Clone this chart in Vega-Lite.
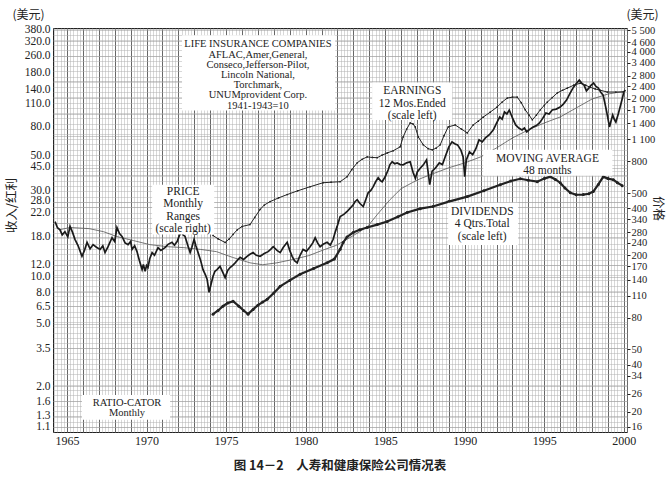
{
  "$schema": "https://vega.github.io/schema/vega-lite/v6.json",
  "width": 574,
  "height": 404,
  "autosize": {"type": "none"},
  "padding": {"left": 53, "top": 28, "right": 42, "bottom": 52},
  "background": "white",
  "title": {
    "text": "图 14－2　人寿和健康保险公司情况表",
    "orient": "bottom",
    "anchor": "middle",
    "offset": 14,
    "font": "Noto Sans CJK SC",
    "fontSize": 12.5,
    "fontWeight": "bold",
    "color": "#222"
  },
  "config": {
    "view": {"stroke": "#222", "strokeWidth": 1},
    "axis": {
      "labelFont": "Liberation Serif",
      "labelFontSize": 11.5,
      "labelColor": "#222",
      "labelOverlap": false,
      "labelFlush": false,
      "titleFont": "Noto Sans CJK SC",
      "titleFontWeight": "normal",
      "titleColor": "#222",
      "titleFontSize": 12
    }
  },
  "datasets": {
    "price": [
      {"year": 1964.25, "price": 328}, {"year": 1964.4, "price": 300}, {"year": 1964.56, "price": 291},
      {"year": 1964.7, "price": 270}, {"year": 1964.87, "price": 283}, {"year": 1965.05, "price": 262},
      {"year": 1965.19, "price": 306}, {"year": 1965.35, "price": 280}, {"year": 1965.5, "price": 253},
      {"year": 1965.7, "price": 230}, {"year": 1965.94, "price": 197}, {"year": 1966.1, "price": 215},
      {"year": 1966.26, "price": 242}, {"year": 1966.45, "price": 220}, {"year": 1966.64, "price": 234},
      {"year": 1966.85, "price": 225}, {"year": 1967.08, "price": 218}, {"year": 1967.25, "price": 230},
      {"year": 1967.39, "price": 208}, {"year": 1967.58, "price": 227}, {"year": 1967.83, "price": 259},
      {"year": 1968.0, "price": 245}, {"year": 1968.14, "price": 301}, {"year": 1968.3, "price": 275},
      {"year": 1968.46, "price": 264}, {"year": 1968.65, "price": 240}, {"year": 1968.84, "price": 234},
      {"year": 1969.0, "price": 245}, {"year": 1969.09, "price": 218}, {"year": 1969.25, "price": 230},
      {"year": 1969.4, "price": 211}, {"year": 1969.55, "price": 185}, {"year": 1969.72, "price": 162},
      {"year": 1969.8, "price": 175}, {"year": 1969.91, "price": 158}, {"year": 1970.0, "price": 172},
      {"year": 1970.09, "price": 167}, {"year": 1970.2, "price": 190}, {"year": 1970.35, "price": 208},
      {"year": 1970.5, "price": 200}, {"year": 1970.72, "price": 224}, {"year": 1970.9, "price": 215},
      {"year": 1971.16, "price": 224}, {"year": 1971.35, "price": 235}, {"year": 1971.6, "price": 242},
      {"year": 1971.75, "price": 232}, {"year": 1971.92, "price": 245}, {"year": 1972.05, "price": 265},
      {"year": 1972.17, "price": 283}, {"year": 1972.3, "price": 270}, {"year": 1972.42, "price": 264},
      {"year": 1972.6, "price": 230}, {"year": 1972.74, "price": 208}, {"year": 1972.85, "price": 225},
      {"year": 1972.99, "price": 253}, {"year": 1973.1, "price": 230}, {"year": 1973.24, "price": 208},
      {"year": 1973.4, "price": 185}, {"year": 1973.55, "price": 162}, {"year": 1973.7, "price": 150},
      {"year": 1973.81, "price": 140}, {"year": 1973.93, "price": 116}, {"year": 1974.05, "price": 130},
      {"year": 1974.18, "price": 147}, {"year": 1974.3, "price": 158}, {"year": 1974.43, "price": 162},
      {"year": 1974.62, "price": 170}, {"year": 1974.8, "price": 155}, {"year": 1974.94, "price": 144},
      {"year": 1975.1, "price": 160}, {"year": 1975.25, "price": 167}, {"year": 1975.4, "price": 172},
      {"year": 1975.57, "price": 179}, {"year": 1975.75, "price": 188}, {"year": 1975.88, "price": 194},
      {"year": 1976.1, "price": 188}, {"year": 1976.32, "price": 197}, {"year": 1976.5, "price": 203},
      {"year": 1976.7, "price": 208}, {"year": 1976.9, "price": 200}, {"year": 1977.14, "price": 197},
      {"year": 1977.4, "price": 205}, {"year": 1977.64, "price": 211}, {"year": 1977.8, "price": 218},
      {"year": 1977.96, "price": 227}, {"year": 1978.2, "price": 215}, {"year": 1978.4, "price": 208},
      {"year": 1978.6, "price": 225}, {"year": 1978.84, "price": 242}, {"year": 1979.0, "price": 215},
      {"year": 1979.15, "price": 197}, {"year": 1979.3, "price": 185}, {"year": 1979.47, "price": 179},
      {"year": 1979.65, "price": 200}, {"year": 1979.84, "price": 218}, {"year": 1980.05, "price": 212},
      {"year": 1980.28, "price": 227}, {"year": 1980.45, "price": 240}, {"year": 1980.6, "price": 259},
      {"year": 1980.75, "price": 240}, {"year": 1980.91, "price": 227}, {"year": 1981.1, "price": 235},
      {"year": 1981.35, "price": 242}, {"year": 1981.55, "price": 232}, {"year": 1981.73, "price": 253},
      {"year": 1981.85, "price": 280}, {"year": 1981.98, "price": 306}, {"year": 1982.17, "price": 354},
      {"year": 1982.4, "price": 365}, {"year": 1982.61, "price": 381}, {"year": 1982.8, "price": 400},
      {"year": 1982.99, "price": 421}, {"year": 1983.1, "price": 440}, {"year": 1983.24, "price": 453},
      {"year": 1983.4, "price": 430}, {"year": 1983.62, "price": 410}, {"year": 1983.8, "price": 460},
      {"year": 1983.93, "price": 502}, {"year": 1984.1, "price": 520}, {"year": 1984.25, "price": 549},
      {"year": 1984.4, "price": 590}, {"year": 1984.56, "price": 626}, {"year": 1984.7, "price": 600},
      {"year": 1984.81, "price": 590}, {"year": 1985.0, "price": 635}, {"year": 1985.19, "price": 704},
      {"year": 1985.3, "price": 760}, {"year": 1985.44, "price": 792}, {"year": 1985.6, "price": 770},
      {"year": 1985.75, "price": 779}, {"year": 1985.95, "price": 760}, {"year": 1986.13, "price": 757},
      {"year": 1986.35, "price": 780}, {"year": 1986.57, "price": 792}, {"year": 1986.76, "price": 674},
      {"year": 1986.9, "price": 620}, {"year": 1987.01, "price": 680}, {"year": 1987.2, "price": 720},
      {"year": 1987.4, "price": 757}, {"year": 1987.6, "price": 814}, {"year": 1987.8, "price": 565},
      {"year": 1987.95, "price": 690}, {"year": 1988.15, "price": 720}, {"year": 1988.4, "price": 779},
      {"year": 1988.6, "price": 760}, {"year": 1988.75, "price": 840}, {"year": 1989.0, "price": 986},
      {"year": 1989.2, "price": 1061}, {"year": 1989.4, "price": 1030}, {"year": 1989.55, "price": 1016},
      {"year": 1989.75, "price": 944}, {"year": 1989.9, "price": 850}, {"year": 1990.0, "price": 635},
      {"year": 1990.1, "price": 814}, {"year": 1990.3, "price": 917}, {"year": 1990.5, "price": 880},
      {"year": 1990.7, "price": 960}, {"year": 1990.9, "price": 1093}, {"year": 1991.1, "price": 1060},
      {"year": 1991.3, "price": 1125}, {"year": 1991.55, "price": 1180}, {"year": 1991.8, "price": 1266},
      {"year": 1992.0, "price": 1400}, {"year": 1992.2, "price": 1531}, {"year": 1992.35, "price": 1480},
      {"year": 1992.5, "price": 1648}, {"year": 1992.65, "price": 1600}, {"year": 1992.8, "price": 1696},
      {"year": 1993.0, "price": 1509}, {"year": 1993.2, "price": 1362}, {"year": 1993.4, "price": 1300},
      {"year": 1993.6, "price": 1266}, {"year": 1993.75, "price": 1300}, {"year": 1993.9, "price": 1229},
      {"year": 1994.1, "price": 1280}, {"year": 1994.3, "price": 1322}, {"year": 1994.5, "price": 1350},
      {"year": 1994.7, "price": 1402}, {"year": 1994.9, "price": 1500}, {"year": 1995.1, "price": 1624},
      {"year": 1995.3, "price": 1600}, {"year": 1995.5, "price": 1696}, {"year": 1995.75, "price": 1720},
      {"year": 1996.0, "price": 1773}, {"year": 1996.2, "price": 1850}, {"year": 1996.4, "price": 1965},
      {"year": 1996.6, "price": 2150}, {"year": 1996.8, "price": 2342}, {"year": 1997.0, "price": 2500},
      {"year": 1997.2, "price": 2635}, {"year": 1997.35, "price": 2520}, {"year": 1997.5, "price": 2448},
      {"year": 1997.65, "price": 2250}, {"year": 1997.8, "price": 2342}, {"year": 1997.95, "price": 2450},
      {"year": 1998.1, "price": 2522}, {"year": 1998.25, "price": 2400}, {"year": 1998.4, "price": 2342},
      {"year": 1998.55, "price": 2200}, {"year": 1998.7, "price": 2114}, {"year": 1998.8, "price": 1900},
      {"year": 1998.9, "price": 1696}, {"year": 1999.0, "price": 1500}, {"year": 1999.1, "price": 1322},
      {"year": 1999.2, "price": 1450}, {"year": 1999.3, "price": 1576}, {"year": 1999.4, "price": 1480},
      {"year": 1999.5, "price": 1422}, {"year": 1999.65, "price": 1600}, {"year": 1999.8, "price": 1826},
      {"year": 1999.9, "price": 2000}, {"year": 2000.0, "price": 2210}, {"year": 2000.1, "price": 2275}
    ],
    "ma": [
      {"year": 1964.5, "ma": 291}, {"year": 1965.2, "ma": 301}, {"year": 1966.4, "ma": 296},
      {"year": 1967.3, "ma": 283}, {"year": 1968.1, "ma": 264}, {"year": 1969.2, "ma": 248},
      {"year": 1970.2, "ma": 234}, {"year": 1971.3, "ma": 227}, {"year": 1972.3, "ma": 224},
      {"year": 1973.4, "ma": 218}, {"year": 1974.4, "ma": 211}, {"year": 1975.4, "ma": 194},
      {"year": 1976.5, "ma": 179}, {"year": 1977.3, "ma": 174}, {"year": 1978.2, "ma": 179},
      {"year": 1979.2, "ma": 188}, {"year": 1980.2, "ma": 199}, {"year": 1981.2, "ma": 218},
      {"year": 1981.9, "ma": 231}, {"year": 1982.6, "ma": 253}, {"year": 1983.4, "ma": 283},
      {"year": 1983.9, "ma": 306}, {"year": 1984.5, "ma": 364}, {"year": 1985.3, "ma": 453},
      {"year": 1986.0, "ma": 533}, {"year": 1986.7, "ma": 582}, {"year": 1987.2, "ma": 617},
      {"year": 1988.0, "ma": 664}, {"year": 1989.0, "ma": 725}, {"year": 1990.0, "ma": 779},
      {"year": 1991.0, "ma": 851}, {"year": 1992.0, "ma": 971}, {"year": 1993.0, "ma": 1125},
      {"year": 1994.0, "ma": 1266}, {"year": 1995.0, "ma": 1402}, {"year": 1996.0, "ma": 1531},
      {"year": 1997.0, "ma": 1747}, {"year": 1998.0, "ma": 1994}, {"year": 1999.0, "ma": 2146},
      {"year": 2000.1, "ma": 2243}
    ],
    "earnings": [
      {"year": 1974.18, "earnings": 18.4}, {"year": 1974.5, "earnings": 17.5}, {"year": 1974.94, "earnings": 16.6},
      {"year": 1975.2, "earnings": 17.5}, {"year": 1975.44, "earnings": 18.7}, {"year": 1975.7, "earnings": 20.0},
      {"year": 1976.0, "earnings": 21.0}, {"year": 1976.5, "earnings": 21.6}, {"year": 1976.8, "earnings": 24.0},
      {"year": 1977.14, "earnings": 27.0}, {"year": 1977.4, "earnings": 28.8}, {"year": 1977.77, "earnings": 30.3},
      {"year": 1978.3, "earnings": 32.0}, {"year": 1978.84, "earnings": 33.6}, {"year": 1979.5, "earnings": 35.5},
      {"year": 1980.28, "earnings": 37.7}, {"year": 1981.1, "earnings": 40.0}, {"year": 1981.6, "earnings": 40.3},
      {"year": 1982.17, "earnings": 40.6}, {"year": 1982.61, "earnings": 43.7}, {"year": 1982.9, "earnings": 48.5},
      {"year": 1983.24, "earnings": 53.6}, {"year": 1983.55, "earnings": 56.5}, {"year": 1983.87, "earnings": 58.5},
      {"year": 1984.2, "earnings": 58.0}, {"year": 1984.5, "earnings": 57.8}, {"year": 1984.8, "earnings": 60.0},
      {"year": 1985.13, "earnings": 62.0}, {"year": 1985.5, "earnings": 64.0}, {"year": 1985.94, "earnings": 67.8},
      {"year": 1986.13, "earnings": 78.5}, {"year": 1986.35, "earnings": 88.0}, {"year": 1986.57, "earnings": 96.4},
      {"year": 1986.75, "earnings": 95.0}, {"year": 1986.89, "earnings": 90.9}, {"year": 1987.08, "earnings": 78.5},
      {"year": 1987.39, "earnings": 69.9}, {"year": 1987.7, "earnings": 66.0}, {"year": 1987.96, "earnings": 64.9},
      {"year": 1988.2, "earnings": 66.5}, {"year": 1988.46, "earnings": 69.9}, {"year": 1988.7, "earnings": 80.0},
      {"year": 1988.96, "earnings": 90.9}, {"year": 1989.4, "earnings": 93.6}, {"year": 1989.8, "earnings": 88.0},
      {"year": 1990.16, "earnings": 83.3}, {"year": 1990.53, "earnings": 93.6}, {"year": 1990.85, "earnings": 99.0},
      {"year": 1991.16, "earnings": 105}, {"year": 1991.6, "earnings": 113}, {"year": 1992.04, "earnings": 122},
      {"year": 1992.35, "earnings": 131}, {"year": 1992.67, "earnings": 139}, {"year": 1993.0, "earnings": 141},
      {"year": 1993.3, "earnings": 141}, {"year": 1993.55, "earnings": 130}, {"year": 1993.8, "earnings": 117},
      {"year": 1994.05, "earnings": 108}, {"year": 1994.25, "earnings": 101}, {"year": 1994.5, "earnings": 108},
      {"year": 1994.75, "earnings": 117}, {"year": 1995.0, "earnings": 125}, {"year": 1995.19, "earnings": 131},
      {"year": 1995.5, "earnings": 140}, {"year": 1995.82, "earnings": 150}, {"year": 1996.15, "earnings": 156},
      {"year": 1996.45, "earnings": 161}, {"year": 1996.85, "earnings": 168}, {"year": 1997.26, "earnings": 173},
      {"year": 1997.6, "earnings": 168}, {"year": 1997.89, "earnings": 163}, {"year": 1998.2, "earnings": 159},
      {"year": 1998.52, "earnings": 156}, {"year": 1998.96, "earnings": 152}, {"year": 1999.5, "earnings": 152},
      {"year": 1999.97, "earnings": 152}
    ],
    "dividends": [
      {"year": 1974.18, "dividend": 5.78}, {"year": 1974.5, "dividend": 6.1}, {"year": 1974.8, "dividend": 6.5},
      {"year": 1975.1, "dividend": 6.8}, {"year": 1975.44, "dividend": 6.99}, {"year": 1975.8, "dividend": 6.5},
      {"year": 1976.1, "dividend": 6.1}, {"year": 1976.38, "dividend": 5.78}, {"year": 1976.7, "dividend": 6.2},
      {"year": 1977.0, "dividend": 6.6}, {"year": 1977.3, "dividend": 6.9}, {"year": 1977.58, "dividend": 7.19},
      {"year": 1978.0, "dividend": 7.9}, {"year": 1978.4, "dividend": 8.7}, {"year": 1979.0, "dividend": 9.5},
      {"year": 1979.65, "dividend": 10.4}, {"year": 1980.5, "dividend": 11.3}, {"year": 1981.35, "dividend": 12.3},
      {"year": 1981.8, "dividend": 13.0}, {"year": 1982.17, "dividend": 15.0}, {"year": 1982.36, "dividend": 16.6},
      {"year": 1982.6, "dividend": 18.0}, {"year": 1982.99, "dividend": 19.2}, {"year": 1983.4, "dividend": 20.0},
      {"year": 1983.87, "dividend": 20.7}, {"year": 1984.5, "dividend": 21.6}, {"year": 1985.13, "dividend": 22.6},
      {"year": 1985.8, "dividend": 24.2}, {"year": 1986.38, "dividend": 25.8}, {"year": 1987.2, "dividend": 27.3},
      {"year": 1988.0, "dividend": 28.2}, {"year": 1989.0, "dividend": 30.3}, {"year": 1990.16, "dividend": 32.6},
      {"year": 1991.2, "dividend": 35.5}, {"year": 1992.23, "dividend": 38.8}, {"year": 1992.9, "dividend": 41.0},
      {"year": 1993.5, "dividend": 42.4}, {"year": 1994.0, "dividend": 41.5}, {"year": 1994.56, "dividend": 40.6},
      {"year": 1995.0, "dividend": 42.5}, {"year": 1995.38, "dividend": 43.7}, {"year": 1995.7, "dividend": 42.0},
      {"year": 1996.0, "dividend": 40.0}, {"year": 1996.3, "dividend": 37.0}, {"year": 1996.64, "dividend": 34.5},
      {"year": 1997.0, "dividend": 33.5}, {"year": 1997.45, "dividend": 33.6}, {"year": 1997.8, "dividend": 34.0},
      {"year": 1998.08, "dividend": 35.1}, {"year": 1998.4, "dividend": 39.0}, {"year": 1998.71, "dividend": 43.7},
      {"year": 1999.0, "dividend": 42.5}, {"year": 1999.34, "dividend": 41.8}, {"year": 1999.6, "dividend": 40.0},
      {"year": 1999.9, "dividend": 38.3}
    ],
    "boxes": [
      {"x0": 1972.23, "x1": 1981.86, "y0": 350, "y1": 116},
      {"x0": 1984.18, "x1": 1989.21, "y0": 175, "y1": 100.8},
      {"x0": 1991.16, "x1": 1999.28, "y0": 64.9, "y1": 44.3},
      {"x0": 1988.96, "x1": 1993.36, "y0": 29.8, "y1": 16.0},
      {"x0": 1970.35, "x1": 1974.25, "y0": 38.8, "y1": 18.7},
      {"x0": 1965.94, "x1": 1971.48, "y0": 1.76, "y1": 1.22}
    ],
    "seriesNotes": [
      {"year": 1986.7, "value": 168.3, "label": "EARNINGS\n12 Mos.Ended\n(scale left)"},
      {"year": 1995.2, "value": 62.0, "label": "MOVING AVERAGE\n48 months"},
      {"year": 1991.1, "value": 28.5, "label": "DIVIDENDS\n4 Qtrs.Total\n(scale left)"},
      {"year": 1972.3, "value": 38.3, "label": "PRICE\nMonthly\nRanges\n(scale right)"}
    ],
    "chartNotes": [
      {"year": 1977.0, "value": 330, "label": "LIFE INSURANCE COMPANIES\nAFLAC,Amer,General,\nConseco,Jefferson-Pilot,\nLincoln National,\nTorchmark,\nUNUMprovident Corp.\n1941-1943=10"},
      {"year": 1968.77, "value": 1.68, "label": "RATIO-CATOR\nMonthly"}
    ]
  },
  "layer": [
    {
      "data": {"name": "dividends"},
      "mark": {"type": "point", "opacity": 0},
      "encoding": {
        "x": {"field": "year", "type": "quantitative",
          "scale": {"domain": [1964.12, 2000.2], "nice": false, "zero": false},
          "axis": {"orient": "bottom", "grid": true, "gridColor": "#b0b0b0", "gridWidth": 0.5, "tickCount": 180,
            "labels": false, "ticks": false, "domain": false, "title": null}},
        "y": {"field": "dividend", "type": "quantitative",
          "scale": {"type": "log", "domain": [1.02, 390], "nice": false},
          "axis": {"orient": "left", "grid": true, "gridColor": "#b0b0b0", "gridWidth": 0.5,
            "values": [1.1, 1.19, 1.28, 1.39, 1.5, 1.62, 1.75, 1.89, 2.04, 2.2, 2.38, 2.57, 2.77, 3.0, 3.24, 3.49, 3.77, 4.08, 4.4, 4.75, 5.13, 5.55, 5.99, 6.47, 6.99, 7.54, 8.15, 8.8, 9.5, 10.3, 11.1, 12.0, 12.9, 14.0, 15.1, 16.3, 17.6, 19.0, 20.5, 22.2, 23.9, 25.8, 27.9, 30.1, 32.6, 35.2, 38.0, 41.0, 44.3, 47.8, 51.7, 55.8, 60.3, 65.1, 70.3, 75.9, 82.0, 88.5, 95.6, 103, 112, 120, 130, 141, 152, 164, 177, 191, 206, 223, 241, 260, 281, 303, 328, 354, 382],
            "labels": false, "ticks": false, "domain": false,
            "title": "收入/红利", "titleAngle": -90, "titleX": -42, "titleY": 177,
            "titleAlign": "center", "titleBaseline": "middle", "titleFontSize": 12.5}}
      }
    },
    {
      "data": {"name": "dividends"},
      "mark": {"type": "point", "opacity": 0},
      "encoding": {
        "x": {"field": "year", "type": "quantitative",
          "scale": {"domain": [1964.12, 2000.2], "nice": false, "zero": false},
          "axis": {"orient": "bottom", "grid": true, "gridColor": "#5a5a5a", "gridWidth": 0.9,
            "values": [1965, 1966, 1967, 1968, 1969, 1970, 1971, 1972, 1973, 1974, 1975, 1976, 1977, 1978, 1979, 1980, 1981, 1982, 1983, 1984, 1985, 1986, 1987, 1988, 1989, 1990, 1991, 1992, 1993, 1994, 1995, 1996, 1997, 1998, 1999, 2000],
            "format": "d", "labelExpr": "datum.value % 5 === 0 ? datum.label : ''",
            "labelPadding": 3, "labelFontSize": 12, "ticks": false, "domain": false, "title": null}},
        "y": {"field": "dividend", "type": "quantitative",
          "scale": {"type": "log", "domain": [1.02, 390], "nice": false},
          "axis": {"orient": "left", "grid": true, "gridColor": "#999", "gridWidth": 0.5,
            "values": [380, 320, 260, 180, 140, 110, 80, 50, 45, 30, 28, 22, 18, 12, 10, 8, 6.5, 5, 3.5, 2, 1.6, 1.3, 1.1],
            "format": ".1f", "ticks": false, "labelPadding": 3, "domain": false,
            "labelOffset": {"condition": [
              {"test": "datum.value == 180", "value": -8},
              {"test": "datum.value == 140", "value": -8},
              {"test": "datum.value == 110", "value": -10},
              {"test": "datum.value == 80", "value": -9},
              {"test": "datum.value == 50", "value": -12},
              {"test": "datum.value == 45", "value": -8},
              {"test": "datum.value == 30", "value": -12},
              {"test": "datum.value == 28", "value": -6},
              {"test": "datum.value == 22", "value": -11}
            ], "value": 0},
            "title": "(美元)", "titleAngle": 0, "titleX": -25, "titleY": -14,
            "titleAlign": "center", "titleBaseline": "middle"}}
      }
    },
    {
      "data": {"name": "ma"},
      "mark": {"type": "line", "color": "#555", "strokeWidth": 0.8},
      "encoding": {
        "x": {"field": "year", "type": "quantitative", "axis": null},
        "y": {"field": "ma", "type": "quantitative",
          "scale": {"type": "log", "domain": [14.84, 5673], "nice": false},
          "axis": {"orient": "right", "grid": false, "labels": false, "ticks": false, "domain": false,
            "title": "(美元)", "titleAngle": 0, "titleX": 15, "titleY": -14,
            "titleAlign": "center", "titleBaseline": "middle"}}
      }
    },
    {
      "data": {"name": "price"},
      "mark": {"type": "line", "color": "#1a1a1a", "strokeWidth": 1.7},
      "encoding": {
        "x": {"field": "year", "type": "quantitative", "axis": null},
        "y": {"field": "price", "type": "quantitative",
          "scale": {"type": "log", "domain": [14.84, 5673], "nice": false},
          "axis": {"orient": "right", "grid": false,
            "values": [5500, 4600, 4000, 3400, 2800, 2400, 2000, 1700, 1400, 1100, 800, 500, 400, 340, 280, 240, 200, 170, 140, 110, 80, 50, 40, 34, 26, 20, 16],
            "labelExpr": "replace(format(datum.value, ','), ',', ' ')", "labelFontSize": 10.5,
            "ticks": true, "tickSize": 3, "tickColor": "#222", "labelPadding": 1, "domain": false,
            "title": "价格", "titleAngle": 90, "titleX": 30, "titleY": 180,
            "titleAlign": "center", "titleBaseline": "middle", "titleFontSize": 12.5}}
      }
    },
    {
      "data": {"name": "dividends"},
      "mark": {"type": "line", "color": "#222", "strokeWidth": 2.2,
        "point": {"filled": true, "size": 9, "color": "#222"}},
      "encoding": {
        "x": {"field": "year", "type": "quantitative", "axis": null},
        "y": {"field": "dividend", "type": "quantitative",
          "scale": {"type": "log", "domain": [1.02, 390], "nice": false}, "axis": null}
      }
    },
    {
      "data": {"name": "earnings"},
      "mark": {"type": "line", "color": "#222", "strokeWidth": 1,
        "point": {"filled": true, "size": 3, "color": "#222"}},
      "encoding": {
        "x": {"field": "year", "type": "quantitative", "axis": null},
        "y": {"field": "earnings", "type": "quantitative",
          "scale": {"type": "log", "domain": [1.02, 390], "nice": false}, "axis": null}
      }
    },
    {
      "data": {"name": "boxes"},
      "mark": {"type": "rect", "fill": "white"},
      "encoding": {
        "x": {"field": "x0", "type": "quantitative", "axis": null},
        "x2": {"field": "x1"},
        "y": {"field": "y0", "type": "quantitative",
          "scale": {"type": "log", "domain": [1.02, 390], "nice": false}, "axis": null},
        "y2": {"field": "y1"}
      }
    },
    {
      "data": {"name": "seriesNotes"},
      "mark": {"type": "text", "font": "Liberation Serif", "fontSize": 11.5, "lineHeight": 12.5, "lineBreak": "\n",
        "align": "center", "baseline": "top", "color": "#222"},
      "encoding": {
        "x": {"field": "year", "type": "quantitative", "axis": null},
        "y": {"field": "value", "type": "quantitative",
          "scale": {"type": "log", "domain": [1.02, 390], "nice": false}, "axis": null},
        "text": {"field": "label"}
      }
    },
    {
      "data": {"name": "chartNotes"},
      "mark": {"type": "text", "font": "Liberation Serif", "fontSize": 10.5, "lineHeight": 10.2, "lineBreak": "\n",
        "align": "center", "baseline": "top", "color": "#222"},
      "encoding": {
        "x": {"field": "year", "type": "quantitative", "axis": null},
        "y": {"field": "value", "type": "quantitative",
          "scale": {"type": "log", "domain": [1.02, 390], "nice": false}, "axis": null},
        "text": {"field": "label"}
      }
    }
  ],
  "resolve": {
    "scale": {"y": "independent"},
    "axis": {"x": "independent", "y": "independent"}
  }
}
